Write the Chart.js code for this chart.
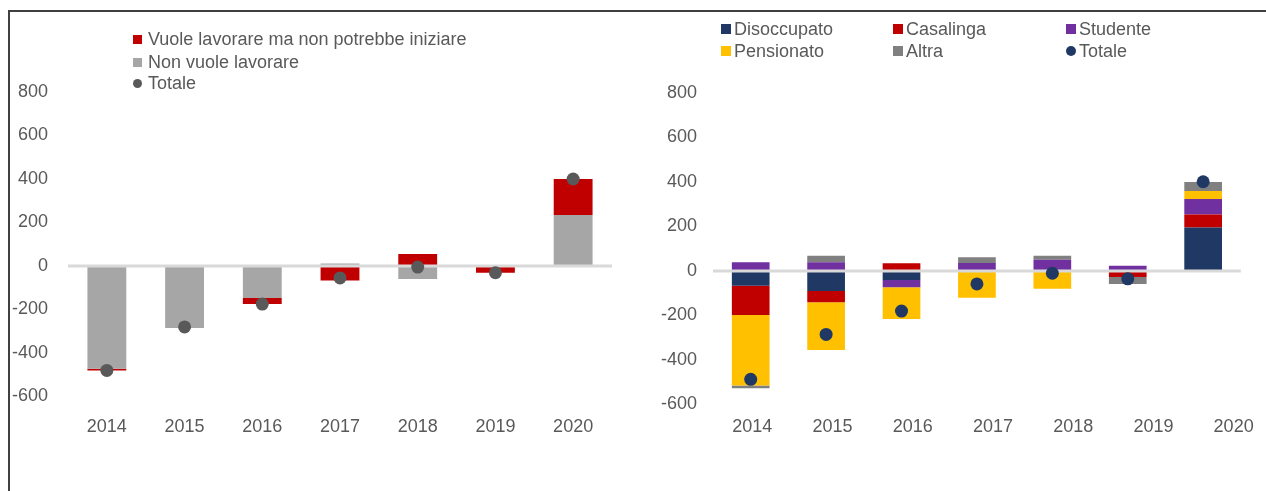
<!DOCTYPE html>
<html lang="it">
<head>
<meta charset="utf-8">
<script src="https://cdn.jsdelivr.net/npm/chart.js@4.4.1/dist/chart.umd.min.js"></script>
<style>
    body {
        margin: 0;
        background: #fff;
        font-family: "Liberation Sans", Arial, sans-serif;
        color: #595959;
        overflow: hidden;
    }
    .frame {
        position: absolute;
        left: 8px;
        top: 10px;
        width: 1300px;
        height: 520px;
        border-left: 2px solid #404040;
        border-top: 2px solid #404040;
    }
    .panel {
        position: absolute;
        top: 0;
        height: 491px;
    }
    .legend-item {
        position: absolute;
        display: flex;
        align-items: center;
        font-size: 18px;
        line-height: 22px;
        white-space: nowrap;
    }
</style>
</head>
<body>

<div class="frame"></div>
<div class="panel" style="left:0;width:640px"><canvas id="chartLeft"></canvas></div>
<div class="panel" style="left:640px;width:626px"><canvas id="chartRight"></canvas></div>
<div id="legendLeft"></div>
<div id="legendRight"></div>

<script>
    // dati (migliaia di persone, variazioni annue)
    const years = ['2014', '2015', '2016', '2017', '2018', '2019', '2020'];
    const yTicks = [-600, -400, -200, 0, 200, 400, 600, 800];

    // grafico di sinistra
    const vuoleLavorare = [-8, 5, -28, -67, 55, -31, 165];
    const nonVuoleLavorare = [-472, -285, -147, 12, -60, 0, 235];
    const totaleLeft = [-480, -280, -175, -55, -5, -31, 400];

    // grafico di destra
    const disoccupato = [-66, -90, -40, 0, 0, 0, 195];
    const casalinga = [-132, -51, 35, 0, 0, -27, 59];
    const studente = [39, 39, -33, 36, 51, 24, 70];
    const pensionato = [-317, -214, -143, -120, -80, 0, 36];
    const altra = [-12, 30, 0, 26, 18, -31, 40];
    const totaleRight = [-487, -285, -180, -58, -10, -35, 401];

    const textColor = '#595959';
    const tickFont = { family: '"Liberation Sans", Arial, sans-serif', size: 18 };

    // linea dello zero disegnata sopra le barre ma sotto i punti
    const zeroLine = {
        id: 'zeroLine',
        afterDatasetDraw: function (chart, args) {
            if (args.index !== 0) return;
            const ctx = chart.ctx;
            const area = chart.chartArea;
            const y = chart.scales.y.getPixelForValue(0);
            ctx.save();
            ctx.strokeStyle = '#D9D9D9';
            ctx.lineWidth = 3;
            ctx.beginPath();
            ctx.moveTo(area.left, y);
            ctx.lineTo(area.right, y);
            ctx.stroke();
            ctx.restore();
        }
    };

    function barSet(label, data, color) {
        return {
            type: 'bar',
            label: label,
            data: data,
            backgroundColor: color,
            borderWidth: 0,
            barPercentage: 1,
            categoryPercentage: 0.5,
            order: 1
        };
    }

    function dotSet(label, data, color) {
        return {
            type: 'line',
            label: label,
            data: data,
            showLine: false,
            pointStyle: 'circle',
            pointRadius: 6.5,
            pointHoverRadius: 6.5,
            pointBackgroundColor: color,
            pointBorderWidth: 0,
            backgroundColor: color,
            stack: 'totale',
            order: 0
        };
    }

    function yScale(width, pad) {
        return {
            stacked: true,
            min: -600,
            max: 800,
            afterBuildTicks: function (s) { s.ticks = yTicks.map(function (v) { return { value: v }; }); },
            ticks: { font: tickFont, color: textColor, padding: pad },
            grid: { display: false, drawTicks: false },
            border: { display: false },
            afterFit: function (s) { s.width = width; }
        };
    }

    // legenda html costruita dai dataset
    function buildLegend(chart, el, order, spots, boxSize) {
        order.forEach(function (idx, i) {
            const ds = chart.data.datasets[idx];
            const item = document.createElement('div');
            item.className = 'legend-item';
            item.style.left = spots[i][0] + 'px';
            item.style.top = (spots[i][1] - 11) + 'px';
            const box = document.createElement('span');
            box.style.display = 'inline-block';
            box.style.width = boxSize + 'px';
            box.style.height = boxSize + 'px';
            box.style.marginRight = spots[i][2] + 'px';
            box.style.background = ds.backgroundColor;
            if (ds.type === 'line') box.style.borderRadius = '50%';
            const txt = document.createElement('span');
            txt.textContent = ds.label;
            item.appendChild(box);
            item.appendChild(txt);
            el.appendChild(item);
        });
    }

    const chartLeft = new Chart(document.getElementById('chartLeft'), {
        data: {
            labels: years,
            datasets: [
                barSet('Non vuole lavorare', nonVuoleLavorare, '#A6A6A6'),
                barSet('Vuole lavorare ma non potrebbe iniziare', vuoleLavorare, '#C00000'),
                dotSet('Totale', totaleLeft, '#595959')
            ]
        },
        options: {
            responsive: true,
            maintainAspectRatio: false,
            animation: false,
            layout: { padding: { top: 92, right: 28, bottom: 44.5, left: 0 } },
            plugins: { legend: { display: false }, tooltip: { enabled: false } },
            scales: {
                x: {
                    stacked: true,
                    ticks: { font: tickFont, color: textColor, padding: 20, maxRotation: 0 },
                    grid: { display: false, drawTicks: false },
                    border: { display: false },
                    afterFit: function (s) { s.height = 50; }
                },
                y: yScale(68, 20)
            }
        },
        plugins: [zeroLine]
    });

    const chartRight = new Chart(document.getElementById('chartRight'), {
        data: {
            labels: years,
            datasets: [
                barSet('Disoccupato', disoccupato, '#1F3864'),
                barSet('Casalinga', casalinga, '#C00000'),
                barSet('Studente', studente, '#7030A0'),
                barSet('Pensionato', pensionato, '#FFC000'),
                barSet('Altra', altra, '#808080'),
                dotSet('Totale', totaleRight, '#1F3864')
            ]
        },
        options: {
            responsive: true,
            maintainAspectRatio: false,
            animation: false,
            layout: { padding: { top: 93, right: 24, bottom: 36.5, left: 0 } },
            plugins: { legend: { display: false }, tooltip: { enabled: false } },
            scales: {
                x: { stacked: true, display: false },
                // etichette degli anni: nell'originale non sono allineate alle barre
                xLab: {
                    type: 'linear',
                    position: 'bottom',
                    min: -0.49,
                    max: 6.09,
                    afterBuildTicks: function (s) { s.ticks = years.map(function (y, i) { return { value: i }; }); },
                    ticks: {
                        font: tickFont, color: textColor, padding: 12, maxRotation: 0, autoSkip: false,
                        callback: function (v) { return years[v]; }
                    },
                    grid: { display: false, drawTicks: false },
                    border: { display: false },
                    afterFit: function (s) { s.height = 50; }
                },
                y: yScale(73, 16)
            }
        },
        plugins: [zeroLine]
    });

    buildLegend(chartLeft, document.getElementById('legendLeft'), [1, 0, 2],
        [[133, 39, 6], [133, 62, 6], [133, 83, 6]], 9);
    buildLegend(chartRight, document.getElementById('legendRight'), [0, 1, 2, 3, 4, 5],
        [[721, 29, 3], [893, 29, 3], [1066, 29, 3], [721, 51, 3], [893, 51, 3], [1066, 51, 3]], 10);
</script>
</body>
</html>
